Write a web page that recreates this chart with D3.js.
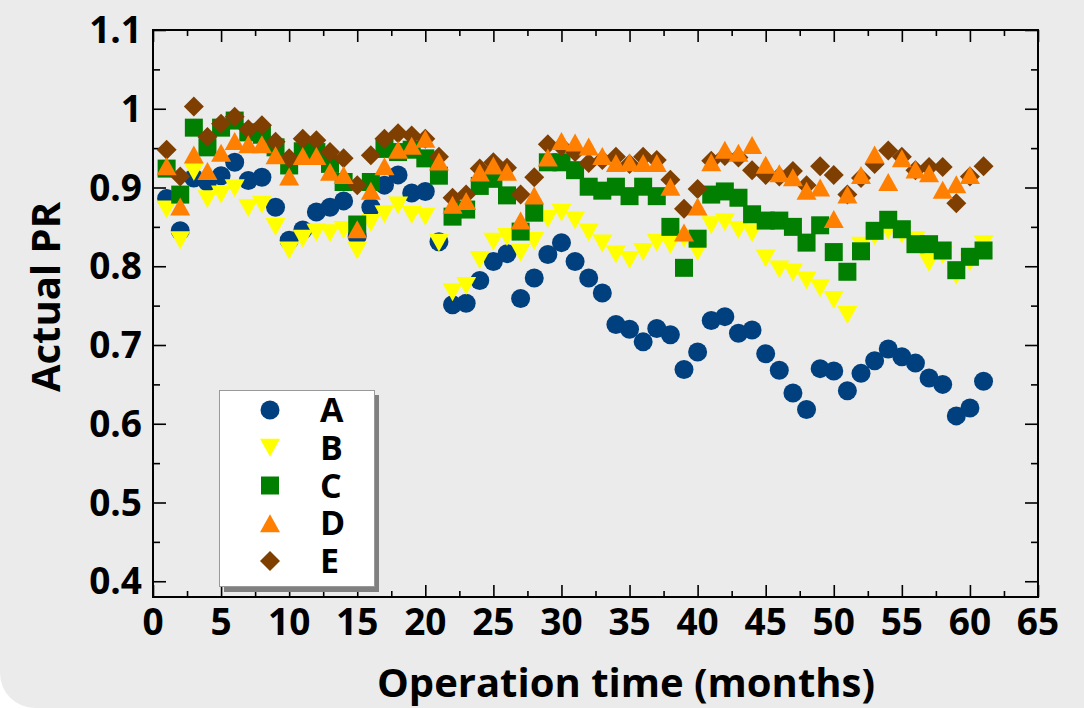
<!DOCTYPE html>
<html>
<head>
<meta charset="utf-8">
<script src="https://cdn.jsdelivr.net/npm/d3@7"></script>
<style>
  html, body { margin: 0; padding: 0; background: #ffffff; }
  svg { display: block; }
  text { font-family: "Open Sans", "DejaVu Sans", sans-serif; font-weight: bold; fill: #000; }
</style>
</head>
<body>
<script>
// months of operation
var months = [1,2,3,4,5,6,7,8,9,10,11,12,13,14,15,16,17,18,19,20,21,22,23,24,25,26,27,28,29,30,
  31,32,33,34,35,36,37,38,39,40,41,42,43,44,45,46,47,48,49,50,51,52,53,54,55,56,57,58,59,60,61];

var seriesA = [0.886,0.845,0.912,0.907,0.915,0.932,0.909,0.913,0.875,0.833,0.846,0.869,0.875,0.883,0.838,0.875,0.903,0.916,0.893,0.895,
  0.831,0.751,0.753,0.782,0.806,0.816,0.759,0.785,0.815,0.830,0.806,0.785,0.766,0.726,0.720,0.704,0.721,0.713,0.669,0.691,
  0.731,0.736,0.715,0.719,0.689,0.668,0.639,0.618,0.670,0.667,0.642,0.664,0.680,0.695,0.685,0.677,0.658,0.650,0.610,0.620,0.654];
var seriesB = [0.872,0.833,0.920,0.885,0.891,0.899,0.874,0.878,0.850,0.820,0.835,0.843,0.842,0.846,0.820,0.855,0.866,0.877,0.865,0.863,
  0.830,0.767,0.775,0.808,0.831,0.837,0.817,0.832,0.860,0.868,0.858,0.843,0.829,0.815,0.808,0.818,0.830,0.827,0.835,0.818,
  0.852,0.856,0.846,0.842,0.810,0.796,0.792,0.782,0.772,0.757,0.738,0.826,0.838,0.845,0.840,0.833,0.804,0.814,0.788,0.805,0.828];
var seriesC = [0.924,0.891,0.976,0.951,0.976,0.985,0.970,0.967,0.951,0.928,0.946,0.945,0.930,0.907,0.853,0.907,0.949,0.945,0.948,0.937,
  0.915,0.863,0.872,0.902,0.911,0.890,0.844,0.868,0.932,0.932,0.922,0.901,0.896,0.901,0.889,0.901,0.889,0.850,0.798,0.835,
  0.891,0.895,0.887,0.866,0.858,0.858,0.850,0.830,0.852,0.818,0.793,0.819,0.845,0.859,0.847,0.828,0.828,0.820,0.795,0.812,0.820];
var seriesD = [0.927,0.876,0.942,0.921,0.944,0.959,0.955,0.955,0.941,0.914,0.940,0.940,0.920,0.916,0.847,0.896,0.927,0.948,0.953,0.962,
  0.933,0.878,0.883,0.919,0.928,0.920,0.858,0.890,0.938,0.959,0.957,0.952,0.940,0.931,0.932,0.931,0.931,0.901,0.843,0.876,
  0.932,0.948,0.944,0.954,0.929,0.918,0.913,0.896,0.900,0.860,0.891,0.916,0.942,0.907,0.937,0.923,0.918,0.897,0.904,0.916];
var seriesE = [0.948,0.914,1.003,0.964,0.981,0.990,0.974,0.979,0.958,0.937,0.962,0.960,0.945,0.937,0.903,0.941,0.962,0.969,0.966,0.962,
  0.939,0.887,0.891,0.924,0.932,0.925,0.891,0.913,0.955,0.952,0.945,0.931,0.935,0.939,0.930,0.939,0.935,0.910,0.873,0.898,
  0.934,0.940,0.938,0.922,0.916,0.914,0.921,0.903,0.927,0.916,0.891,0.912,0.930,0.947,0.939,0.922,0.926,0.926,0.880,0.914,0.927];

var seriesNames = ["A", "B", "C", "D", "E"];
var seriesColors = ["#00407f", "#ffff00", "#007f00", "#ff7f00", "#7f3f00"];
var seriesShapes = ["circle", "triDown", "square", "triUp", "diamond"];

var xTicks = [0,5,10,15,20,25,30,35,40,45,50,55,60,65];
var xMinor = [2.5,7.5,12.5,17.5,22.5,27.5,32.5,37.5,42.5,47.5,52.5,57.5,62.5];
var yTicks = [0.4,0.5,0.6,0.7,0.8,0.9,1.0,1.1];
var yTickLabels = ["0.4","0.5","0.6","0.7","0.8","0.9","1","1.1"];
var yMinor = [0.45,0.55,0.65,0.75,0.85,0.95,1.05];

var w = 1084, h = 708;
var plotLeft = 153, plotRight = 1038, plotTop = 30, plotBottom = 597;

var svg = d3.select("body").append("svg")
  .attr("width", w)
  .attr("height", h);

// grey panel, rounded corner shows at lower left
svg.append("rect")
  .attr("x", 0).attr("y", -60)
  .attr("width", w + 60).attr("height", h + 60)
  .attr("rx", 35).attr("ry", 35)
  .style("fill", "#ebebeb");

var x = d3.scaleLinear().domain([0, 65]).range([plotLeft, plotRight]);
var y = d3.scaleLinear().domain([0.38, 1.1]).range([plotBottom, plotTop]);

// ticks, all pointing inwards
function tickAxis(axis, values, size, tx, ty) {
  var g = svg.append("g")
    .attr("transform", "translate(" + tx + "," + ty + ")")
    .call(axis.tickValues(values).tickSize(size).tickFormat(""));
  g.select(".domain").remove();
  g.selectAll("line").style("stroke", "#000").style("stroke-width", 1.6);
}
tickAxis(d3.axisBottom(x), xTicks, -12, 0, plotBottom);
tickAxis(d3.axisBottom(x), xMinor, -6, 0, plotBottom);
tickAxis(d3.axisTop(x), xTicks, -12, 0, plotTop);
tickAxis(d3.axisTop(x), xMinor, -6, 0, plotTop);
tickAxis(d3.axisLeft(y), yTicks, -13, plotLeft, 0);
tickAxis(d3.axisLeft(y), yMinor, -7, plotLeft, 0);
tickAxis(d3.axisRight(y), yTicks, -13, plotRight, 0);
tickAxis(d3.axisRight(y), yMinor, -7, plotRight, 0);

// frame
svg.append("rect")
  .attr("x", plotLeft).attr("y", plotTop)
  .attr("width", plotRight - plotLeft).attr("height", plotBottom - plotTop)
  .style("fill", "none")
  .style("stroke", "#000")
  .style("stroke-width", 2);

// tick labels
svg.selectAll(".xlab")
  .data(xTicks)
  .enter()
  .append("text")
  .attr("class", "xlab")
  .attr("x", function(d){ return x(d); })
  .attr("y", 635)
  .attr("text-anchor", "middle")
  .style("font-size", "37px")
  .text(function(d){ return d; });

svg.selectAll(".ylab")
  .data(yTicks)
  .enter()
  .append("text")
  .attr("class", "ylab")
  .attr("x", 142)
  .attr("y", function(d){ return y(d) + 13; })
  .attr("text-anchor", "end")
  .style("font-size", "37px")
  .text(function(d, i){ return yTickLabels[i]; });

// axis titles
svg.append("text")
  .attr("x", 626)
  .attr("y", 697)
  .attr("text-anchor", "middle")
  .style("font-size", "40px")
  .text("Operation time (months)");

svg.append("text")
  .attr("transform", "translate(60,297) rotate(-90)")
  .attr("text-anchor", "middle")
  .style("font-size", "40px")
  .text("Actual PR");

// marker shapes
function shapePath(shape) {
  if (shape == "circle") return d3.symbol().type(d3.symbolCircle).size(Math.PI * 9.5 * 9.5)();
  if (shape == "square") return "M-9,-9L9,-9L9,9L-9,9Z";
  if (shape == "triUp") return "M0,-9L10,9L-10,9Z";
  if (shape == "triDown") return "M0,9L10,-9L-10,-9Z";
  return "M0,-10L10,0L0,10L-10,0Z";
}

var allSeries = [seriesA, seriesB, seriesC, seriesD, seriesE];
// E is drawn below D in the original
var drawOrder = [0, 1, 2, 4, 3];

var plot = svg.append("g");
drawOrder.forEach(function(s){
  var vals = allSeries[s];
  plot.selectAll(".pt" + s)
    .data(vals)
    .enter()
    .append("path")
    .attr("class", "pt" + s)
    .attr("d", shapePath(seriesShapes[s]))
    .attr("transform", function(d, i){
      return "translate(" + x(months[i]) + "," + y(d) + ")";
    })
    .style("fill", seriesColors[s]);
});

// legend
var lg = svg.append("g");
lg.append("rect")
  .attr("x", 224).attr("y", 395)
  .attr("width", 155).attr("height", 197)
  .style("fill", "#808080");
lg.append("rect")
  .attr("x", 219.5).attr("y", 390.5)
  .attr("width", 155).attr("height", 196)
  .style("fill", "#fff")
  .style("stroke", "#999")
  .style("stroke-width", 1);

var legendY = d3.scaleLinear().domain([0, 4]).range([410, 561]);
var items = lg.selectAll(".item")
  .data(seriesNames)
  .enter()
  .append("g")
  .attr("class", "item")
  .attr("transform", function(d, i){ return "translate(0," + legendY(i) + ")"; });
items.append("path")
  .attr("d", function(d, i){ return shapePath(seriesShapes[i]); })
  .attr("transform", "translate(270,0)")
  .style("fill", function(d, i){ return seriesColors[i]; });
items.append("text")
  .attr("x", 320)
  .attr("y", 12)
  .style("font-size", "34px")
  .text(function(d){ return d; });
</script>
</body>
</html>
